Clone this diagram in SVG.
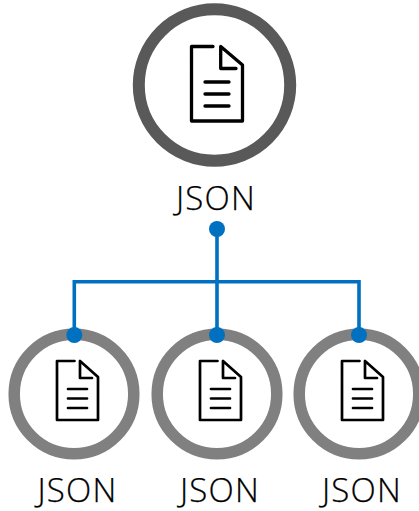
<svg xmlns="http://www.w3.org/2000/svg" width="419" height="511" viewBox="0 0 419 511">
<style>
.ring{fill:#fff}
.big{stroke:#595959;stroke-width:12}
.small{stroke:#808080;stroke-width:11.5}
.doc{fill:none;stroke:#000;stroke-linecap:round;stroke-linejoin:round}
.label{font-family:"Open Sans","Liberation Sans",sans-serif;font-weight:300;font-size:33px;letter-spacing:1.2px;fill:#000;stroke:#000;stroke-width:.25;text-anchor:middle}
.wire{fill:none;stroke:#0070c0;stroke-width:3.6}
.dot{fill:#0070c0}
</style>
<defs>
<g id="docS" class="doc" stroke-width="2.7">
<path d="M74.5 361H57V420H98V377L80 361V378H92"/>
<path d="M68 389H87M68 398.5H87M68 408H87"/>
</g>
</defs>
<g id="node-top">
<circle class="ring big" cx="214.500" cy="85" r="75.700"/>
<g class="doc" stroke-width="3.300">
<path d="M213 46.500H191.500V121H242.500V65L220.700 46.500V68.500H236"/>
<path d="M205 82H229M205 94H229M205 106H229"/>
</g>
<text class="label" x="216" y="210">JSON</text>
</g>
<g id="node-left">
<circle class="ring small" cx="74" cy="394" r="59.800"/>
<use href="#docS"/>
<text class="label" x="77.500" y="502">JSON</text>
</g>
<g id="node-middle">
<circle class="ring small" cx="217" cy="394" r="59.800"/>
<use href="#docS" x="143"/>
<text class="label" x="220" y="502">JSON</text>
</g>
<g id="node-right">
<circle class="ring small" cx="359" cy="394" r="59.800"/>
<use href="#docS" x="285"/>
<text class="label" x="362" y="502">JSON</text>
</g>
<g id="connectors">
<path class="wire" d="M217 229V335M74.300 335V281.700H359V335"/>
<circle class="dot" cx="217" cy="229" r="8"/>
<circle class="dot" cx="74.300" cy="335" r="8"/>
<circle class="dot" cx="217" cy="335" r="8"/>
<circle class="dot" cx="359" cy="335" r="8"/>
</g>
</svg>
